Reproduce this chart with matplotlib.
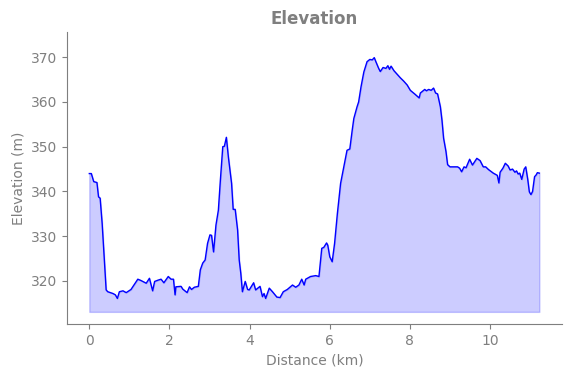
import matplotlib.pyplot as plt

# Elevation profile.
distance_km = [
    0.00, 0.05, 0.11, 0.19, 0.23, 0.27, 0.32, 0.37, 0.42, 0.46, 0.59, 0.65,
    0.70, 0.75, 0.84, 0.92, 1.04, 1.21, 1.29, 1.42, 1.50, 1.58, 1.63, 1.72,
    1.79, 1.86, 1.97, 2.04, 2.10, 2.14, 2.16, 2.29, 2.33, 2.44, 2.50, 2.55,
    2.62, 2.72, 2.77, 2.83, 2.89, 2.95, 3.01, 3.05, 3.10, 3.16, 3.22, 3.27,
    3.33, 3.37, 3.42, 3.47, 3.55, 3.59, 3.64, 3.70, 3.74, 3.78, 3.82, 3.89,
    3.95, 3.99, 4.10, 4.15, 4.26, 4.32, 4.36, 4.40, 4.49, 4.57, 4.68, 4.76,
    4.84, 4.94, 5.07, 5.15, 5.23, 5.30, 5.36, 5.40, 5.52, 5.65, 5.73, 5.80,
    5.85, 5.92, 5.95, 6.00, 6.06, 6.12, 6.19, 6.27, 6.35, 6.43, 6.50, 6.56,
    6.60, 6.68, 6.72, 6.78, 6.85, 6.93, 7.00, 7.06, 7.11, 7.15, 7.22, 7.26,
    7.33, 7.40, 7.45, 7.49, 7.53, 7.60, 7.68, 7.76, 7.84, 7.93, 8.01, 8.13,
    8.23, 8.26, 8.37, 8.41, 8.47, 8.53, 8.59, 8.64, 8.69, 8.76, 8.80, 8.84,
    8.90, 8.94, 9.00, 9.19, 9.24, 9.29, 9.35, 9.40, 9.49, 9.56, 9.67, 9.75,
    9.83, 9.89, 9.96, 10.08, 10.18, 10.22, 10.25, 10.32, 10.38, 10.45, 10.50,
    10.56, 10.62, 10.66, 10.70, 10.74, 10.79, 10.85, 10.89, 10.94, 10.98,
    11.02, 11.06, 11.11, 11.15, 11.18, 11.23,
]
elevation_m = [
    344.0, 344.0, 342.2, 342.0, 338.8, 338.5, 332.9, 325.4, 318.0, 317.6, 317.2, 316.9,
    316.1, 317.6, 317.8, 317.4, 318.1, 320.4, 320.1, 319.5, 320.6, 317.8, 319.9, 320.2,
    320.4, 319.6, 321.0, 320.4, 320.4, 316.9, 318.7, 318.8, 318.2, 317.4, 318.7, 318.1,
    318.6, 318.8, 322.5, 324.0, 324.7, 328.4, 330.3, 330.2, 326.5, 332.5, 335.8, 342.5,
    350.0, 350.1, 352.1, 347.7, 341.8, 336.0, 336.0, 331.4, 324.7, 321.7, 317.6, 319.9,
    318.1, 318.0, 319.6, 318.0, 318.8, 316.5, 317.2, 316.1, 318.4, 317.6, 316.4, 316.3,
    317.6, 318.1, 319.1, 318.6, 319.1, 320.4, 319.1, 320.4, 321.0, 321.2, 321.0, 327.3,
    327.5, 328.5, 328.0, 325.4, 324.3, 328.4, 335.1, 341.8, 345.5, 349.2, 349.5, 353.7,
    356.3, 358.9, 360.0, 363.4, 366.7, 369.0, 369.5, 369.4, 369.9, 369.0, 367.5, 366.8,
    367.7, 367.5, 368.1, 367.3, 368.0, 367.0, 366.2, 365.4, 364.7, 363.8, 362.6, 361.7,
    360.9, 362.0, 362.8, 362.5, 362.8, 362.6, 363.1, 362.0, 361.8, 358.9, 355.9, 351.9,
    348.9, 346.0, 345.5, 345.5, 345.2, 344.4, 345.5, 345.3, 347.2, 345.9, 347.4, 346.9,
    345.5, 345.5, 344.9, 344.1, 343.6, 341.9, 344.3, 345.2, 346.3, 345.7, 344.8,
    345.0, 344.3, 344.6, 343.9, 344.1, 342.7, 345.0, 345.5, 342.7, 339.9,
    339.3, 340.0, 343.3, 343.7, 344.2, 344.1,
]

text_color = "#7f7f7f"
base = min(elevation_m) - 3

fig, ax = plt.subplots(figsize=(5.71, 3.78), dpi=100)
fig.subplots_adjust(left=0.117, right=0.984, top=0.915, bottom=0.143)

ax.fill_between(distance_km, elevation_m, base, color="blue", alpha=0.2)
ax.plot(distance_km, elevation_m, color="blue", linewidth=1)

ax.set_ylim(310.4, 375.6)
ax.set_yticks([320, 330, 340, 350, 360, 370])
ax.set_title("Elevation", color=text_color, fontweight="bold", fontsize=12)
ax.set_xlabel("Distance (km)", color=text_color)
ax.set_ylabel("Elevation (m)", color=text_color)
ax.tick_params(colors=text_color)
for side in ("top", "right"):
    ax.spines[side].set_visible(False)
for side in ("left", "bottom"):
    ax.spines[side].set_color(text_color)

fig.savefig("out.png")
